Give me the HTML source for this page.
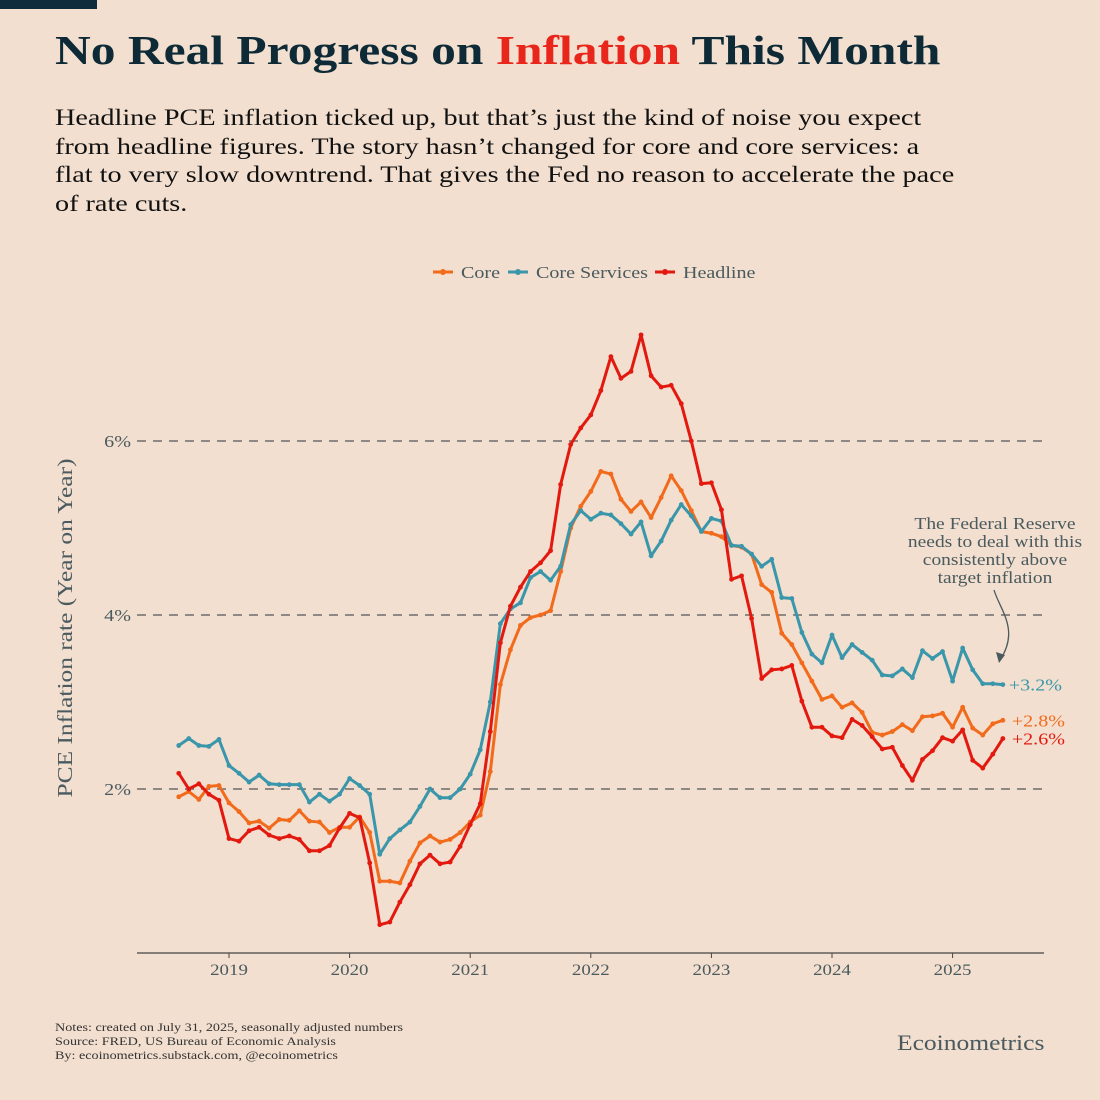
<!DOCTYPE html>
<html><head><meta charset="utf-8">
<style>
html,body{margin:0;padding:0;background:#f2dfcf;}
#root{position:relative;width:1100px;height:1100px;background:#f2dfcf;font-family:"Liberation Serif",serif;overflow:hidden;}
.t{position:absolute;white-space:nowrap;transform-origin:0 0;}
</style></head>
<body>
<div id="root">
<div style="position:absolute;left:0;top:0;width:97px;height:9px;background:#0d2b3a"></div>
<div class="t" style="left:55px;top:26px;font-size:41px;font-weight:bold;color:#0e2a36;transform:scaleX(1.207);">No Real Progress on <span style="color:#e8261b">Inflation</span> This Month</div>
<div class="t" style="left:55px;top:104px;font-size:23.5px;line-height:28.5px;color:#111;transform:scaleX(1.2);">Headline PCE inflation ticked up, but that’s just the kind of noise you expect<br>from headline figures. The story hasn’t changed for core and core services: a<br>flat to very slow downtrend. That gives the Fed no reason to accelerate the pace<br>of rate cuts.</div>
<svg id="chart" width="1100" height="1100" style="position:absolute;left:0;top:0"></svg>
<div class="t" style="left:55px;top:1021px;font-size:11.5px;line-height:14px;color:#333;transform:scaleX(1.23);">Notes: created on July 31, 2025, seasonally adjusted numbers<br>Source: FRED, US Bureau of Economic Analysis<br>By: ecoinometrics.substack.com, @ecoinometrics</div>
<div class="t" style="left:897px;top:1030px;font-size:22px;color:#4a5a5e;transform:scaleX(1.16);">Ecoinometrics</div>
</div>
<script>
const startYear = 2018, startMonth = 7; // Aug 2018 (0-based month)
const yTicks = [2, 4, 6];
const xTicks = [2019, 2020, 2021, 2022, 2023, 2024, 2025];
const seriesNames = ["Core", "Core Services", "Headline"];
const coreValues = [1.91,1.97,1.88,2.03,2.04,
1.84,1.74,1.61,1.63,1.55,1.65,1.64,1.75,1.63,1.62,1.50,1.56,
1.56,1.68,1.50,0.94,0.94,0.92,1.17,1.38,1.46,1.39,1.42,1.50,
1.62,1.70,2.20,3.20,3.60,3.88,3.97,4.00,4.05,4.50,5.00,5.25,
5.42,5.65,5.62,5.33,5.19,5.30,5.12,5.35,5.60,5.43,5.20,4.96,
4.94,4.90,4.80,4.78,4.70,4.35,4.26,3.79,3.66,3.45,3.24,3.03,
3.07,2.94,2.99,2.88,2.65,2.62,2.66,2.74,2.67,2.83,2.84,2.87,
2.71,2.94,2.70,2.62,2.75,2.79];
const servicesValues = [2.50,2.58,2.50,2.49,2.57,
2.27,2.18,2.08,2.16,2.06,2.05,2.05,2.05,1.85,1.94,1.86,1.94,
2.12,2.04,1.94,1.25,1.43,1.53,1.62,1.80,2.00,1.90,1.90,2.00,
2.17,2.45,3.00,3.90,4.07,4.14,4.43,4.50,4.40,4.56,5.04,5.20,
5.10,5.17,5.15,5.05,4.93,5.07,4.68,4.85,5.09,5.27,5.14,4.96,
5.11,5.08,4.80,4.79,4.70,4.56,4.64,4.20,4.19,3.80,3.55,3.45,
3.77,3.51,3.66,3.57,3.48,3.31,3.30,3.38,3.28,3.59,3.50,3.58,
3.24,3.62,3.37,3.21,3.21,3.20];
const headlineValues = [2.18,2.00,2.06,1.94,1.87,
1.43,1.40,1.52,1.56,1.47,1.43,1.46,1.42,1.29,1.29,1.35,1.55,
1.72,1.67,1.15,0.44,0.47,0.70,0.90,1.14,1.24,1.14,1.16,1.34,
1.59,1.83,2.66,3.68,4.10,4.32,4.50,4.60,4.74,5.50,5.96,6.15,
6.30,6.58,6.97,6.72,6.80,7.22,6.75,6.62,6.64,6.43,6.00,5.51,
5.52,5.21,4.41,4.45,3.96,3.27,3.37,3.38,3.42,3.01,2.71,2.71,
2.61,2.59,2.80,2.73,2.60,2.46,2.48,2.27,2.10,2.34,2.44,2.59,
2.55,2.68,2.33,2.24,2.40,2.58];

const NS="http://www.w3.org/2000/svg";
const svg=document.getElementById('chart');
function x(monthIndex){ const m = startYear*12+startMonth+monthIndex; return 229 + (m - 2019*12)*10.05; }
function xYear(yr){ return 229 + (yr-2019)*120.6; }
function y(v){ return 963 - v*87; }
function mk(tag,attrs){const e=document.createElementNS(NS,tag);for(const k in attrs)e.setAttribute(k,attrs[k]);svg.appendChild(e);return e;}
function widen(t,f){ const w=t.getComputedTextLength(); t.setAttribute('textLength',(w*(f||1.18)).toFixed(1)); t.setAttribute('lengthAdjust','spacingAndGlyphs'); }

yTicks.forEach(t=>{
  const g=mk('line',{x1:137,x2:1044,y1:y(t),y2:y(t),stroke:'#555',"stroke-width":1.2,"stroke-dasharray":"9,7"});
  
  
  const l=mk('text',{x:131,y:y(t)+6,"text-anchor":"end","font-size":17,fill:'#4a5a5e',"font-family":"Liberation Serif, serif"});
  l.textContent=t+'%';
  
  
  widen(l);
});
const ax=mk('line',{x1:137,x2:1044,y1:953,y2:953,stroke:'#444',"stroke-width":1.2});


xTicks.forEach(t=>{
  const tk=mk('line',{x1:xYear(t),x2:xYear(t),y1:953,y2:958,stroke:'#444',"stroke-width":1});
  
  
  const l=mk('text',{x:xYear(t),y:975,"text-anchor":"middle","font-size":16,fill:'#4a5a5e',"font-family":"Liberation Serif, serif"});
  l.textContent=t;
  
  
  widen(l);
});
const yt=mk('text',{x:0,y:0,transform:"translate(72,628) rotate(-90)","text-anchor":"middle","font-size":21,fill:'#4a5a5e',"font-family":"Liberation Serif, serif"});
yt.textContent='PCE Inflation rate (Year on Year)';


widen(yt,1.21);

const series=[[coreValues,'#f26a1b','core'],[servicesValues,'#3a96aa','core-services'],[headlineValues,'#e3190f','headline']];
series.forEach(([vals,col,nm])=>{
  const p=mk('polyline',{points:vals.map((v,i)=>x(i)+','+y(v)).join(' '),fill:'none',stroke:col,"stroke-width":3,"stroke-linejoin":"round"});
  
  
  vals.forEach((v,i)=>{
    const c=mk('circle',{cx:x(i),cy:y(v),r:2.4,fill:col});
    
    
  });
});
const endLabels=[[servicesValues,'#3a96aa',0,6],[coreValues,'#f26a1b',0,9],[headlineValues,'#e3190f',0,9]];
endLabels.forEach(([vals,col,dy,dx])=>{
  const v=vals[vals.length-1];
  const t=mk('text',{x:x(vals.length-1)+dx,y:y(v)+6+dy,"font-size":17,fill:col,"font-family":"Liberation Serif, serif"});
  t.textContent='+'+v.toFixed(1)+'%';
  
  
  widen(t);
});
// legend
const legX=[433,508,655];
seriesNames.forEach((n,i)=>{
  const col=series[i][1];
  const l=mk('line',{x1:legX[i],x2:legX[i]+20,y1:272,y2:272,stroke:col,"stroke-width":3});
  
  
  const c=mk('circle',{cx:legX[i]+10,cy:272,r:3,fill:col});
  
  
  const t=mk('text',{x:legX[i]+28,y:278,"font-size":17,fill:'#4a5a5e',"font-family":"Liberation Serif, serif"});
  t.textContent=n;
  
  
  widen(t);
});
// annotation
['The Federal Reserve','needs to deal with this','consistently above','target inflation'].forEach((s,i)=>{
  const t=mk('text',{x:995,y:529+i*18,"text-anchor":"middle","font-size":16.5,fill:'#4a5a5e',"font-family":"Liberation Serif, serif"});
  t.textContent=s;
  
  
  widen(t);
});
const arr=mk('path',{d:"M994,590 C1000,610 1020,630 1000,660",fill:'none',stroke:'#4a5a5e',"stroke-width":1.3});


const ah=mk('path',{d:"M999,663 L996,652 L1005,655 Z",fill:'#4a5a5e'});


</script>
</body></html>
